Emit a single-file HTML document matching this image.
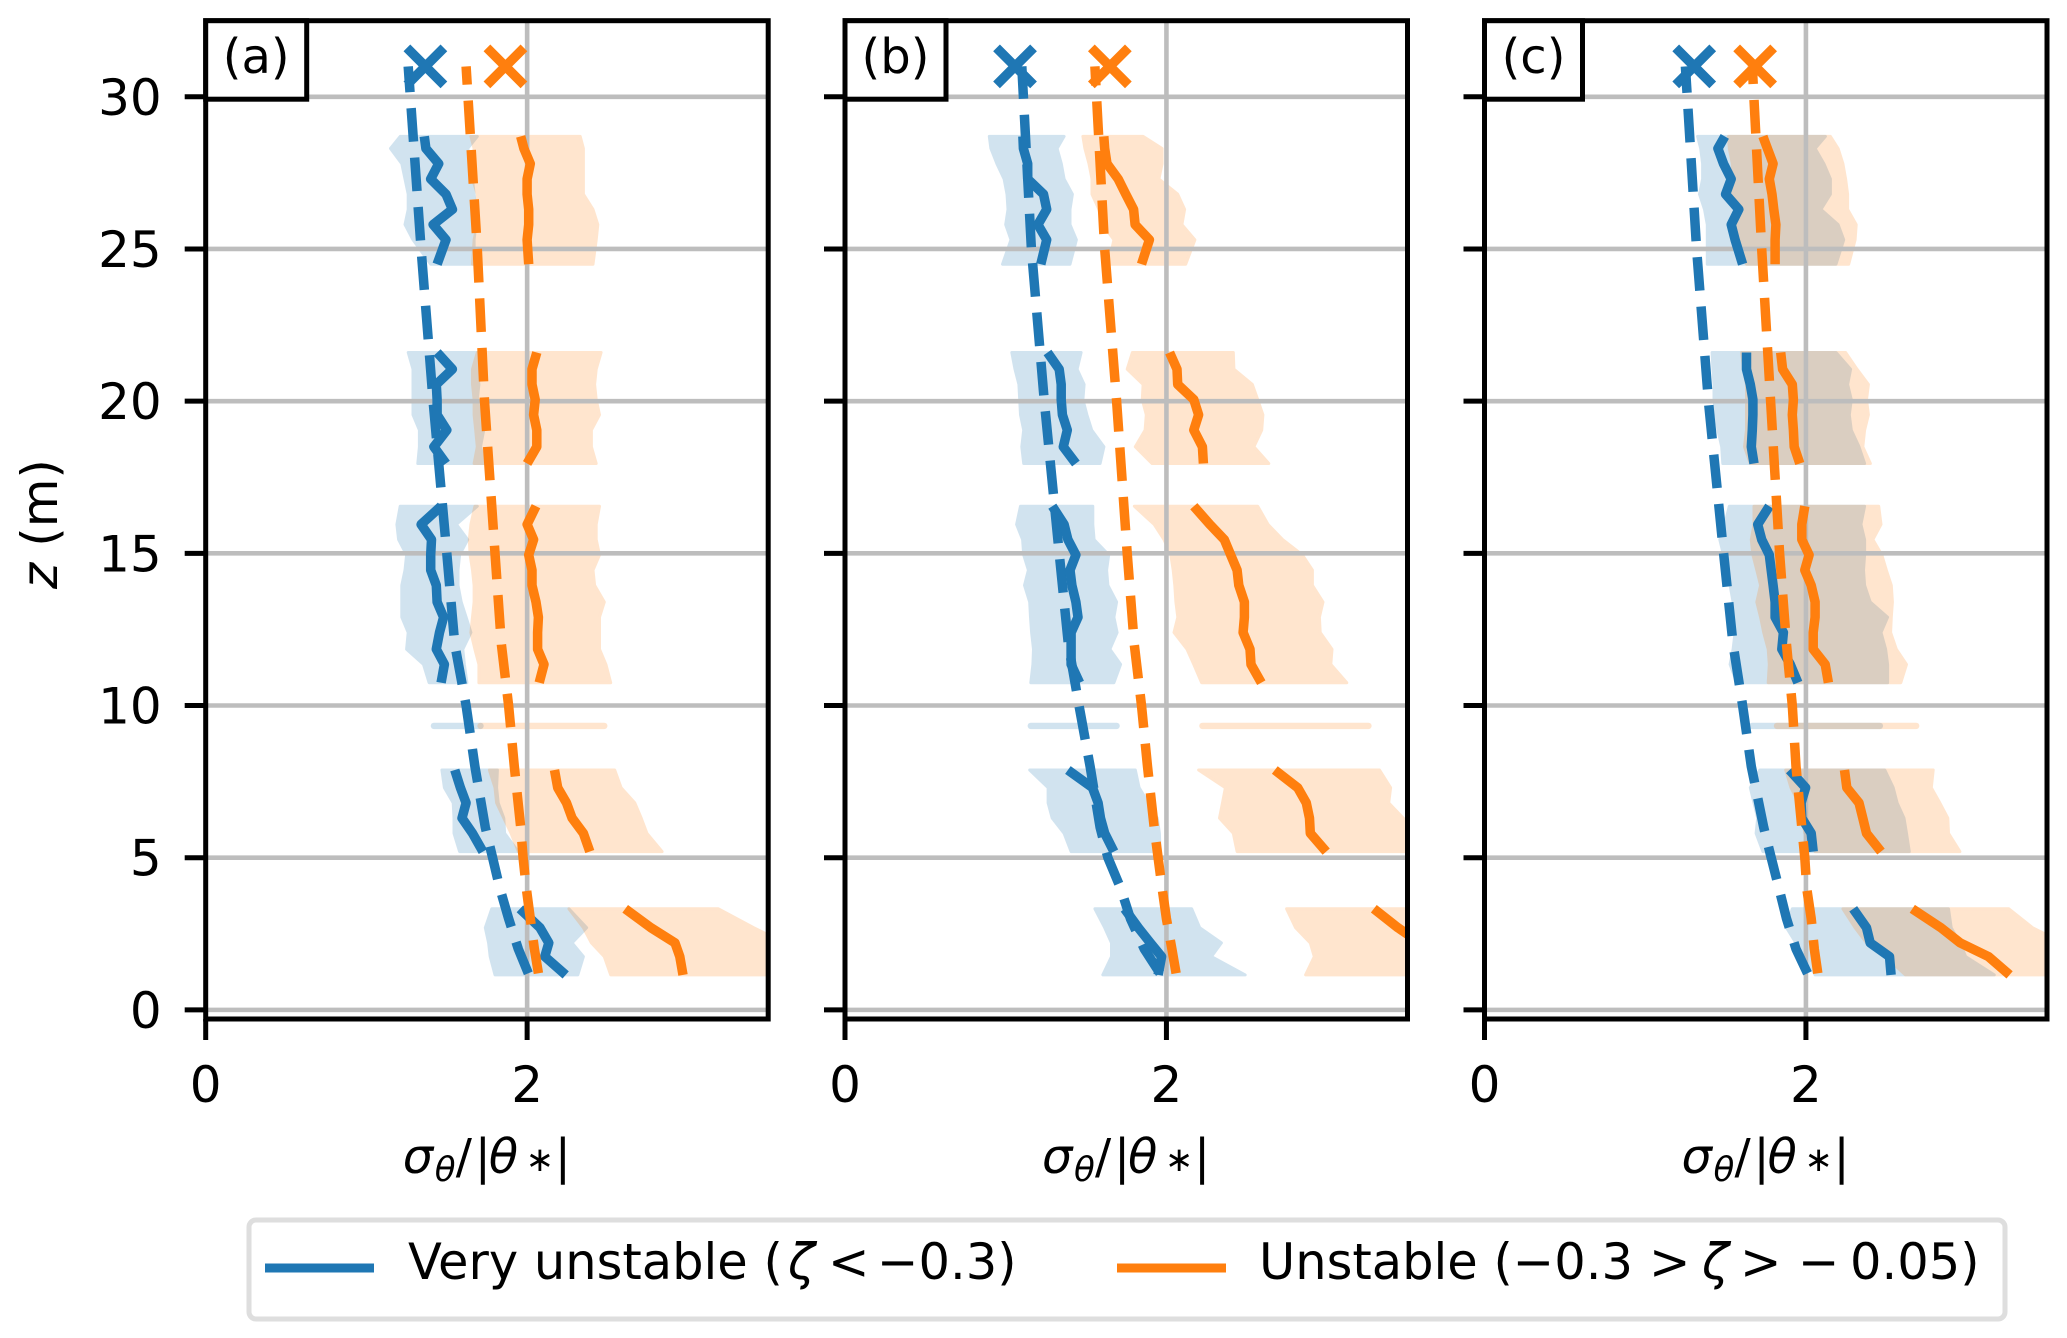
<!DOCTYPE html>
<html lang="en">
<head>
<meta charset="utf-8">
<title>Normalized temperature standard deviation profiles</title>
<style>
html,body{margin:0;padding:0;background:#fff;}
svg{display:block;}
text{font-family:"DejaVu Sans","Liberation Sans",sans-serif;fill:#000;}
</style>
</head>
<body>
<svg id="chart" xmlns="http://www.w3.org/2000/svg" width="2067" height="1338" viewBox="0 0 2067 1338">
  <rect x="0" y="0" width="2067" height="1338" fill="#fff"/>
  <g id="panels"></g>
  <text transform="translate(57,524) rotate(-90)" text-anchor="middle" font-size="50"><tspan font-style="italic">z</tspan> (m)</text>
  <g>
    <rect x="249" y="1220" width="1756" height="99" rx="7" ry="7" fill="#fff" stroke="#dedede" stroke-width="5"/>
    <line x1="265" x2="374" y1="1268" y2="1268" stroke="#1f77b4" stroke-width="9"/>
    <text y="1279" font-size="49.5"><tspan x="408">Very unstable (</tspan><tspan x="788" font-style="italic">ζ</tspan><tspan x="828">&lt;</tspan><tspan x="877">−0.3)</tspan></text>
    <line x1="1117" x2="1226" y1="1268" y2="1268" stroke="#ff7f0e" stroke-width="9"/>
    <text y="1279" font-size="49.5"><tspan x="1259">Unstable (−0.3</tspan><tspan x="1649">&gt;</tspan><tspan x="1702" font-style="italic">ζ</tspan><tspan x="1740">&gt;</tspan><tspan x="1798">−</tspan><tspan x="1850">0.05)</tspan></text>
  </g>
</svg>
<script>
// ---- shared axes data ----
const xTicks = [0, 2];
const zTicks = [0, 5, 10, 15, 20, 25, 30];
const xDomain = [0, 3.5];
const zDomain = [-0.3, 32.5];
const panelLabels = ['(a)', '(b)', '(c)'];
const sectionSizes = [9, 8, 12, 6, 5];
const zLevels = [
  28.7, 28.3, 27.8, 27.3, 26.8, 26.3, 25.8, 25.3, 24.5,
  21.6, 21.05, 20.55, 20.05, 19.55, 19.05, 18.5, 17.95,
  16.55, 15.95, 15.45, 14.95, 14.45, 13.95, 13.4, 12.9, 12.4, 11.85, 11.35, 10.75,
  7.88, 7.3, 6.8, 6.3, 5.8, 5.2,
  3.32, 2.7, 2.2, 1.75, 1.15
];
const bandLevel = 9.33;
const dashZ = [1.2, 2, 3, 4, 5, 6, 8, 10, 12, 15, 20, 25, 31];
const markerZ = 31;

// ---- panel (a) ----
const aBlueMean = [1.36,1.37,1.45,1.40,1.495,1.535,1.415,1.495,1.44,
  1.44,1.535,1.435,1.44,1.44,1.50,1.42,1.495,
  1.465,1.34,1.405,1.40,1.40,1.435,1.44,1.48,1.455,1.435,1.485,1.465,
  1.55,1.585,1.62,1.595,1.66,1.725,
  1.955,2.08,2.135,2.11,2.24];
const aBlueLow = [1.21,1.15,1.22,1.24,1.26,1.26,1.24,1.29,1.40,
  1.26,1.29,1.29,1.29,1.29,1.33,1.33,1.32,
  1.21,1.19,1.20,1.25,1.24,1.22,1.22,1.22,1.26,1.25,1.355,1.39,
  1.47,1.485,1.54,1.545,1.545,1.58,
  1.78,1.74,1.76,1.77,1.80];
const aBlueHigh = [1.69,1.63,1.65,1.66,1.67,1.68,1.68,1.67,1.67,
  1.69,1.69,1.70,1.69,1.71,1.73,1.71,1.74,
  1.69,1.56,1.63,1.58,1.57,1.57,1.59,1.62,1.65,1.60,1.61,1.625,
  1.815,1.81,1.82,1.855,1.86,1.945,
  2.26,2.37,2.28,2.35,2.315];
const aOrangeMean = [1.96,1.98,2.02,2.0,2.0,2.01,2.01,2.0,2.01,
  2.06,2.03,2.03,2.05,2.04,2.06,2.06,2.0,
  2.055,2.0,2.04,2.01,2.03,2.03,2.055,2.07,2.065,2.065,2.105,2.075,
  2.17,2.19,2.245,2.28,2.35,2.39,
  2.61,2.77,2.92,2.95,2.97];
const aOrangeLow = [1.65,1.67,1.66,1.66,1.69,1.69,1.69,1.67,1.66,
  1.69,1.66,1.66,1.67,1.67,1.68,1.69,1.67,
  1.675,1.65,1.64,1.645,1.66,1.67,1.67,1.66,1.65,1.675,1.70,1.70,
  1.765,1.80,1.81,1.855,1.90,1.945,
  2.26,2.35,2.40,2.48,2.52];
const aOrangeHigh = [2.33,2.35,2.35,2.35,2.35,2.41,2.44,2.43,2.41,
  2.46,2.43,2.42,2.43,2.45,2.40,2.40,2.43,
  2.45,2.43,2.43,2.45,2.41,2.42,2.48,2.45,2.45,2.45,2.49,2.52,
  2.545,2.585,2.67,2.71,2.745,2.84,
  3.19,3.41,3.6,3.6,3.6];
const aBlueBand = [1.42, 1.71];
const aOrangeBand = [1.71, 2.48];
const aBlueDash = [2.007,1.945,1.885,1.83,1.785,1.74,1.675,1.62,1.55,1.50,1.415,1.34,1.26];
const aOrangeDash = [2.07,2.045,2.02,1.995,1.975,1.96,1.92,1.885,1.84,1.80,1.735,1.69,1.62];
const aMarkers = [1.367, 1.865];

// ---- panel (b) ----
const bBlueMean = [1.107,1.11,1.137,1.137,1.235,1.255,1.20,1.255,1.218,
  1.26,1.333,1.345,1.345,1.353,1.383,1.358,1.437,
  1.29,1.363,1.387,1.437,1.40,1.412,1.437,1.45,1.407,1.407,1.407,1.46,
  1.387,1.54,1.575,1.59,1.616,1.673,
  1.74,1.825,1.90,1.97,1.948];
const bBlueLow = [0.898,0.908,0.945,0.99,1.008,1.014,1.00,1.033,0.98,
  1.038,1.058,1.082,1.087,1.092,1.112,1.10,1.112,
  1.092,1.068,1.105,1.112,1.141,1.117,1.149,1.154,1.161,1.173,1.169,1.156,
  1.149,1.264,1.264,1.289,1.363,1.407,
  1.555,1.616,1.658,1.658,1.604];
const bBlueHigh = [1.363,1.32,1.346,1.363,1.415,1.40,1.40,1.44,1.40,
  1.469,1.444,1.488,1.48,1.505,1.535,1.611,1.587,
  1.542,1.542,1.55,1.641,1.628,1.636,1.69,1.673,1.693,1.648,1.715,1.673,
  1.806,1.83,1.887,1.943,1.956,1.96,
  2.157,2.207,2.342,2.28,2.49];
const bOrangeMean = [1.61,1.616,1.63,1.70,1.747,1.796,1.805,1.894,1.845,
  2.02,2.066,2.07,2.17,2.20,2.17,2.224,2.23,
  2.17,2.27,2.36,2.40,2.44,2.45,2.485,2.485,2.477,2.52,2.526,2.59,
  2.674,2.817,2.87,2.89,2.895,2.994,
  3.29,3.44,3.58,3.7,3.8];
const bOrangeLow = [1.48,1.493,1.518,1.537,1.537,1.58,1.604,1.673,1.64,
  1.788,1.756,1.855,1.85,1.875,1.867,1.806,1.911,
  1.80,1.924,1.985,2.027,2.042,2.052,2.059,2.071,2.047,2.128,2.17,2.219,
  2.2,2.367,2.349,2.33,2.416,2.44,
  2.748,2.804,2.895,2.92,2.866];
const bOrangeHigh = [1.855,1.973,1.973,1.953,2.07,2.113,2.096,2.177,2.12,
  2.416,2.42,2.534,2.568,2.60,2.593,2.544,2.637,
  2.568,2.632,2.723,2.846,2.908,2.908,2.974,2.952,2.957,3.03,3.023,3.122,
  3.326,3.395,3.383,3.473,3.57,3.6,
  3.6,3.6,3.6,3.6,3.6];
const bBlueBand = [1.156, 1.69];
const bOrangeBand = [2.224, 3.257];
const bBlueDash = [1.96,1.862,1.776,1.715,1.636,1.587,1.525,1.456,1.39,1.333,1.24,1.16,1.10];
const bOrangeDash = [2.06,2.034,2.0,1.973,1.948,1.924,1.882,1.845,1.80,1.756,1.69,1.616,1.555];
const bMarkers = [1.058, 1.648];

// ---- panel (c) ----
const cBlueMean = [1.495,1.452,1.487,1.535,1.50,1.582,1.535,1.559,1.606,
  1.63,1.63,1.654,1.67,1.67,1.666,1.66,1.677,
  1.772,1.70,1.725,1.772,1.784,1.796,1.808,1.808,1.86,1.85,1.903,1.95,
  1.898,1.998,1.97,1.974,2.033,2.045,
  2.294,2.377,2.40,2.52,2.53];
const cBlueLow = [1.326,1.345,1.357,1.357,1.338,1.369,1.386,1.386,1.386,
  1.416,1.421,1.428,1.428,1.44,1.452,1.476,1.483,
  1.523,1.495,1.464,1.487,1.511,1.528,1.547,1.559,1.559,1.547,1.528,1.57,
  1.713,1.654,1.677,1.70,1.69,1.732,
  1.915,1.879,1.938,1.998,2.057];
const cBlueHigh = [2.121,2.057,2.112,2.152,2.152,2.093,2.2,2.235,2.187,
  2.187,2.278,2.259,2.282,2.27,2.282,2.33,2.365,
  2.365,2.342,2.365,2.365,2.358,2.365,2.4,2.508,2.467,2.496,2.508,2.508,
  2.491,2.543,2.567,2.61,2.626,2.643,
  2.887,2.904,2.958,2.994,3.172];
const cOrangeMean = [1.732,1.76,1.796,1.772,1.789,1.80,1.813,1.808,1.808,
  1.843,1.855,1.915,1.922,1.915,1.922,1.927,1.962,
  1.993,1.974,1.974,2.02,1.993,2.033,2.057,2.057,2.045,2.045,2.12,2.14,
  2.24,2.254,2.33,2.354,2.377,2.467,
  2.662,2.84,2.96,3.136,3.267];
const cOrangeLow = [1.518,1.523,1.542,1.547,1.542,1.57,1.559,1.594,1.63,
  1.6,1.613,1.63,1.63,1.63,1.63,1.618,1.654,
  1.677,1.677,1.66,1.67,1.694,1.718,1.694,1.718,1.737,1.765,1.772,1.765,
  1.874,1.907,1.955,1.979,1.993,2.057,
  2.23,2.306,2.377,2.496,2.619];
const cOrangeHigh = [2.152,2.2,2.23,2.247,2.259,2.259,2.313,2.306,2.266,
  2.247,2.318,2.389,2.377,2.389,2.365,2.354,2.401,
  2.453,2.467,2.417,2.472,2.5,2.531,2.538,2.531,2.527,2.562,2.626,2.59,
  2.792,2.78,2.833,2.883,2.887,2.958,
  3.262,3.41,3.6,3.6,3.6];
const cBlueBand = [1.665, 2.46];
const cOrangeBand = [1.82, 2.686];
const cBlueDash = [2.01,1.938,1.879,1.832,1.784,1.737,1.66,1.606,1.547,1.488,1.393,1.32,1.25];
const cOrangeDash = [2.074,2.052,2.033,2.005,1.993,1.974,1.938,1.915,1.879,1.836,1.78,1.725,1.666];
const cMarkers = [1.305, 1.684];

// ---- layout ----
const plotLefts = [205.7, 845, 1484.5];
const plotWidth = 562.5;
const plotTop = 20.7;
const plotBottom = 1019;
const labelBoxWidths = [101, 101, 98];
const BLUE = '#1f77b4';
const ORANGE = '#ff7f0e';
const NS = 'http://www.w3.org/2000/svg';

const panelSeries = [
  {blue:[aBlueMean,aBlueLow,aBlueHigh,aBlueBand,aBlueDash], orange:[aOrangeMean,aOrangeLow,aOrangeHigh,aOrangeBand,aOrangeDash], marks:aMarkers},
  {blue:[bBlueMean,bBlueLow,bBlueHigh,bBlueBand,bBlueDash], orange:[bOrangeMean,bOrangeLow,bOrangeHigh,bOrangeBand,bOrangeDash], marks:bMarkers},
  {blue:[cBlueMean,cBlueLow,cBlueHigh,cBlueBand,cBlueDash], orange:[cOrangeMean,cOrangeLow,cOrangeHigh,cOrangeBand,cOrangeDash], marks:cMarkers}
];

function zScale(z){
  return plotBottom + (z - zDomain[0]) / (zDomain[1] - zDomain[0]) * (plotTop - plotBottom);
}
function xScale(i, v){
  return plotLefts[i] + (v - xDomain[0]) / (xDomain[1] - xDomain[0]) * plotWidth;
}
function make(tag, parent, props){
  const el = document.createElementNS(NS, tag);
  for (const k in props) el.setAttribute(k, props[k]);
  parent.appendChild(el);
  return el;
}
function sectionSlices(values){
  const out = [];
  let start = 0;
  for (const n of sectionSizes){
    out.push([start, start + n]);
    start += n;
  }
  return out.map(r => values.slice(r[0], r[1]));
}
function pointsOf(i, xs, zs){
  return xs.map((v, k) => xScale(i, v).toFixed(1) + ',' + zScale(zs[k]).toFixed(1)).join(' ');
}

const root = document.getElementById('panels');
const zSections = sectionSlices(zLevels);

panelSeries.forEach(function(series, i){
  const tag = panelLabels[i].replace(/[()]/g, '');
  const left = plotLefts[i];
  const panel = make('g', root, {});
  
  

  const clip = make('clipPath', panel, {id: 'clip-' + tag});
  make('rect', clip, {x: left + 2, y: plotTop, width: plotWidth - 4, height: plotBottom - plotTop});

  const body = make('g', panel, {'clip-path': 'url(#clip-' + tag + ')'});
  
  

  // shaded spread bands
  [['blue', series.blue, BLUE], ['orange', series.orange, ORANGE]].forEach(function(s){
    const lowS = sectionSlices(s[1][1]);
    const highS = sectionSlices(s[1][2]);
    lowS.forEach(function(low, j){
      const zs = zSections[j];
      const pts = pointsOf(i, low, zs) + ' ' + pointsOf(i, highS[j].slice().reverse(), zs.slice().reverse());
      const poly = make('polygon', body, {points: pts, fill: s[2], stroke: s[2], 'stroke-width': 3, 'stroke-linejoin': 'round', opacity: 0.2});
      
      
    });
    const band = s[1][3];
    const strip = make('line', body, {x1: xScale(i, band[0]), x2: xScale(i, band[1]), y1: zScale(bandLevel), y2: zScale(bandLevel), stroke: s[2], 'stroke-width': 6.4, 'stroke-linecap': 'round', opacity: 0.2});
    
    
  });

  // grid
  zTicks.forEach(function(z){
    const g = make('line', body, {x1: left, x2: left + plotWidth, y1: zScale(z), y2: zScale(z), stroke: '#bdbdbd', 'stroke-width': 4.6});
    
    
  });
  xTicks.forEach(function(v){
    const g = make('line', body, {x1: xScale(i, v), x2: xScale(i, v), y1: plotTop, y2: plotBottom, stroke: '#bdbdbd', 'stroke-width': 4.6});
    
    
  });

  // series lines
  [['blue', series.blue, BLUE], ['orange', series.orange, ORANGE]].forEach(function(s){
    const dash = make('polyline', body, {points: pointsOf(i, s[1][4], dashZ), fill: 'none', stroke: s[2], 'stroke-width': 9.5, 'stroke-dasharray': '33.6 15.95', 'stroke-linejoin': 'round'});
    
    
    sectionSlices(s[1][0]).forEach(function(mean, j){
      const line = make('polyline', body, {points: pointsOf(i, mean, zSections[j]), fill: 'none', stroke: s[2], 'stroke-width': 9.5, 'stroke-linejoin': 'round'});
      
      
    });
  });

  // x markers
  series.marks.forEach(function(v, k){
    const cx = xScale(i, v);
    const cy = zScale(markerZ);
    const r = 18.5;
    const d = 'M' + (cx - r) + ' ' + (cy - r) + 'L' + (cx + r) + ' ' + (cy + r) + 'M' + (cx - r) + ' ' + (cy + r) + 'L' + (cx + r) + ' ' + (cy - r);
    const m = make('path', body, {d: d, fill: 'none', stroke: k === 0 ? BLUE : ORANGE, 'stroke-width': 9.5});
    
    
  });

  // ticks
  zTicks.forEach(function(z){
    const t = make('line', panel, {x1: left - 21, x2: left, y1: zScale(z), y2: zScale(z), stroke: '#000', 'stroke-width': 5});
    
    
    if (i === 0){
      const lab = make('text', panel, {x: left - 44, y: zScale(z) + 18, 'text-anchor': 'end', 'font-size': 50});
      lab.textContent = String(z);
      
      
    }
  });
  xTicks.forEach(function(v){
    const t = make('line', panel, {x1: xScale(i, v), x2: xScale(i, v), y1: plotBottom, y2: plotBottom + 21, stroke: '#000', 'stroke-width': 5});
    
    
    const lab = make('text', panel, {x: xScale(i, v), y: 1102, 'text-anchor': 'middle', 'font-size': 50});
    lab.textContent = String(v);
    
    
  });

  // spines
  const frame = make('rect', panel, {x: left, y: plotTop, width: plotWidth, height: plotBottom - plotTop, fill: 'none', stroke: '#000', 'stroke-width': 5});
  
  

  // panel label box
  const box = make('rect', panel, {x: left, y: plotTop, width: labelBoxWidths[i], height: 78.5, fill: '#fff', stroke: '#000', 'stroke-width': 5});
  
  
  const label = make('text', panel, {x: left + labelBoxWidths[i] / 2, y: 73, 'text-anchor': 'middle', 'font-size': 48});
  label.textContent = panelLabels[i];
  
  

  // x axis title
  const title = make('text', panel, {y: 1173, 'font-size': 48});
  
  
  const o = left + 197;
  [['σ', 0, 48, 0, 'italic'], ['θ', 32, 34, 8, 'italic'], ['/', 53, 48, 0, 'normal'], ['|', 72, 48, 0, 'normal'], ['θ', 86, 48, 0, 'italic'], ['∗', 123, 34, -2, 'normal'], ['|', 152, 48, 0, 'normal']].forEach(function(g){
    const ts = make('tspan', title, {x: o + g[1], 'font-size': g[2], dy: 0, 'font-style': g[4], y: 1173 + g[3]});
    ts.textContent = g[0];
  });
});
</script>
</body>
</html>
